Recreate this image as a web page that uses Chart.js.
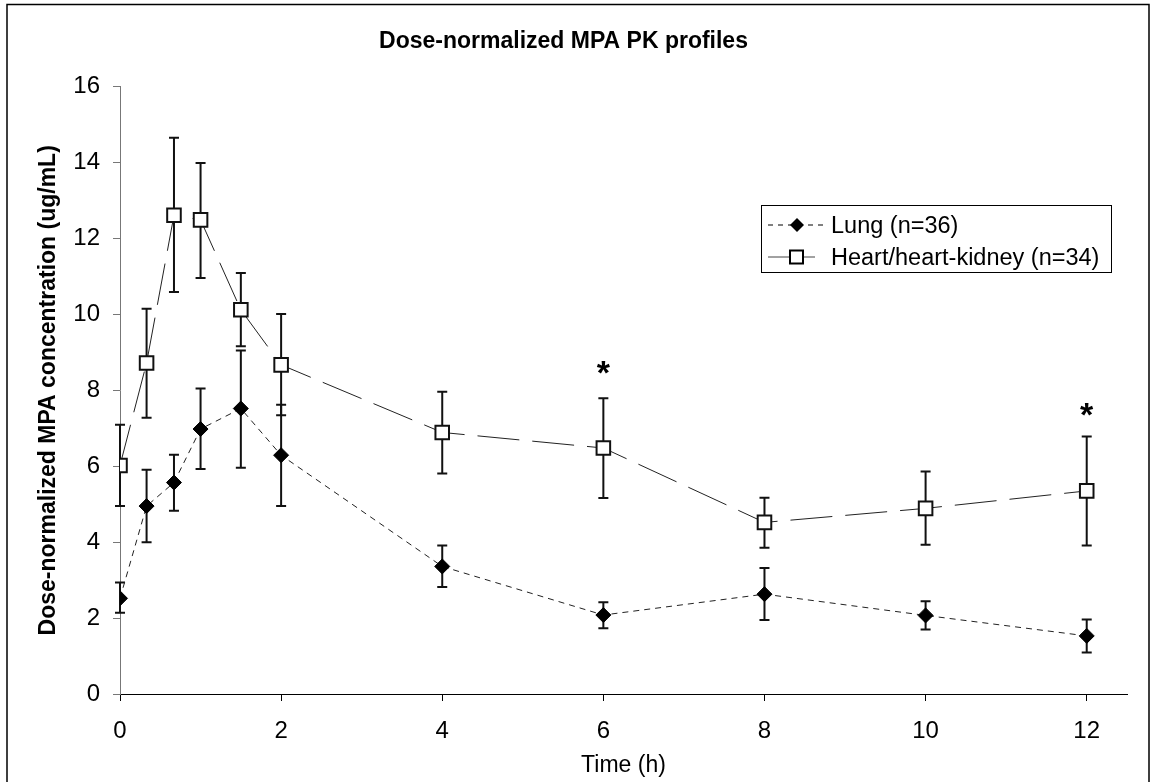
<!DOCTYPE html>
<html>
<head>
<meta charset="utf-8">
<title>Dose-normalized MPA PK profiles</title>
<script src="https://cdn.jsdelivr.net/npm/chart.js@4.4.1/dist/chart.umd.min.js"></script>
<style>
  html, body { margin: 0; padding: 0; background: #fff; }
  #wrap { width: 1151px; height: 782px; position: relative; }
</style>
</head>
<body>
<div id="wrap"><canvas id="pkChart"></canvas></div>
<script>
// sampling times (h)
const times = [0, 0.33, 0.67, 1, 1.5, 2, 4, 6, 8, 10, 12];

// Lung (n=36): mean and error bar ends
const lungMean = [2.52, 4.95, 5.57, 6.98, 7.52, 6.29, 3.36, 2.08, 2.63, 2.07, 1.53];
const lungLow  = [2.14, 4.00, 4.83, 5.93, 5.96, 4.95, 2.82, 1.73, 1.95, 1.70, 1.09];
const lungHigh = [2.94, 5.91, 6.30, 8.05, 9.05, 7.62, 3.91, 2.42, 3.32, 2.44, 1.96];

// Heart/heart-kidney (n=34)
const heartMean = [6.02, 8.72, 12.61, 12.49, 10.12, 8.67, 6.89, 6.48, 4.52, 4.89, 5.35];
const heartLow  = [4.95, 7.28, 10.59, 10.96, 9.16, 7.34, 5.81, 5.16, 3.85, 3.93, 3.91];
const heartHigh = [7.09, 10.15, 14.65, 13.99, 11.09, 10.01, 7.96, 7.79, 5.17, 5.86, 6.78];

// significance markers
const starX = [6, 12];
const starY = [8.67, 7.56];

const xTicks = [0, 2, 4, 6, 8, 10, 12];
const yTicks = [0, 2, 4, 6, 8, 10, 12, 14, 16];

const FONT = "Arial, 'Liberation Sans', sans-serif";
Chart.defaults.font.family = FONT;
Chart.defaults.color = "#000";

function pts(xs, ys) {
    return xs.map((x, i) => ({ x: x, y: ys[i] }));
}

// fond blanc + cadre
const framePlugin = {
    id: "frame",
    beforeDraw(chart) {
        const ctx = chart.ctx;
        ctx.save();
        ctx.fillStyle = "#fff";
        ctx.fillRect(0, 0, chart.width, chart.height);
        ctx.strokeStyle = "#000";
        ctx.lineWidth = 1.5;
        ctx.beginPath();
        ctx.moveTo(7, chart.height);
        ctx.lineTo(7, 4.5);
        ctx.lineTo(1149, 4.5);
        ctx.lineTo(1149, chart.height);
        ctx.stroke();
        ctx.restore();
    }
};

// barres d'erreur sous les marqueurs
const errorBarPlugin = {
    id: "errorBars",
    beforeDatasetsDraw(chart) {
        const ctx = chart.ctx;
        const xs = chart.scales.x, ys = chart.scales.y;
        ctx.save();
        ctx.strokeStyle = "#111";
        ctx.lineWidth = 2;
        chart.data.datasets.forEach(ds => {
            ds.data.forEach((p, i) => {
                const px = xs.getPixelForValue(p.x);
                const lo = ys.getPixelForValue(ds.errLow[i]);
                const hi = ys.getPixelForValue(ds.errHigh[i]);
                ctx.beginPath();
                ctx.moveTo(px, lo); ctx.lineTo(px, hi);
                ctx.moveTo(px - 5, lo); ctx.lineTo(px + 5, lo);
                ctx.moveTo(px - 5, hi); ctx.lineTo(px + 5, hi);
                ctx.stroke();
            });
        });
        ctx.restore();
    }
};

// asterisques + légende
const overlayPlugin = {
    id: "overlay",
    afterDraw(chart) {
        const ctx = chart.ctx;
        const xs = chart.scales.x, ys = chart.scales.y;
        ctx.save();
        ctx.fillStyle = "#000";
        ctx.font = "bold 34px " + FONT;
        ctx.textAlign = "center";
        ctx.textBaseline = "alphabetic";
        starX.forEach((x, i) => {
            ctx.fillText("*", xs.getPixelForValue(x), ys.getPixelForValue(starY[i]) + 19);
        });

        // légende
        ctx.strokeStyle = "#000";
        ctx.lineWidth = 1;
        ctx.strokeRect(761.5, 205.5, 350, 67);
        const ds = chart.data.datasets;
        const rows = [225, 257];

        // Lung sample
        ctx.beginPath();
        ctx.setLineDash([5, 5]);
        ctx.moveTo(768, rows[0]); ctx.lineTo(823, rows[0]);
        ctx.stroke();
        ctx.setLineDash([]);
        ctx.beginPath();
        ctx.moveTo(797 - 7, rows[0]); ctx.lineTo(797, rows[0] - 7);
        ctx.lineTo(797 + 7, rows[0]); ctx.lineTo(797, rows[0] + 7);
        ctx.closePath();
        ctx.fill();

        // Heart sample
        ctx.strokeStyle = "#444";
        ctx.beginPath();
        ctx.moveTo(768, rows[1]); ctx.lineTo(815, rows[1]);
        ctx.stroke();
        ctx.fillStyle = "#fff";
        ctx.strokeStyle = "#000";
        ctx.lineWidth = 2;
        ctx.fillRect(790, rows[1] - 6.5, 13, 13);
        ctx.strokeRect(790, rows[1] - 6.5, 13, 13);

        ctx.fillStyle = "#000";
        ctx.font = "23.5px " + FONT;
        ctx.textAlign = "left";
        ctx.fillText(ds[0].label, 831, rows[0] + 7.5);
        ctx.fillText(ds[1].label, 831, rows[1] + 7.5);
        ctx.restore();
    }
};

const config = {
    type: "scatter",
    data: {
        datasets: [
            {
                label: "Lung (n=36)",
                data: pts(times, lungMean),
                errLow: lungLow,
                errHigh: lungHigh,
                showLine: true,
                borderColor: "#222",
                borderWidth: 1,
                borderDash: [6, 5],
                pointStyle: "rectRot",
                pointRadius: 7.5,
                pointBackgroundColor: "#000",
                pointBorderColor: "#000",
                pointBorderWidth: 1,
            },
            {
                label: "Heart/heart-kidney (n=34)",
                data: pts(times, heartMean),
                errLow: heartLow,
                errHigh: heartHigh,
                showLine: true,
                borderColor: "#222",
                borderWidth: 1,
                borderDash: [42, 13],
                pointStyle: "rect",
                pointRadius: 9.6,
                pointBackgroundColor: "#fff",
                pointBorderColor: "#111",
                pointBorderWidth: 2,
            },
        ],
    },
    options: {
        responsive: true,
        maintainAspectRatio: false,
        animation: false,
        events: [],
        layout: { padding: { left: 0, right: 24, top: 0, bottom: 0 } },
        scales: {
            x: {
                type: "linear",
                min: 0,
                max: 12.5,
                afterFit(s) { s.height = 88; },
                afterBuildTicks(s) { s.ticks = xTicks.map(v => ({ value: v })); },
                ticks: { font: { size: 24 }, color: "#000", padding: 16 },
                grid: { drawOnChartArea: false, tickLength: 7, color: "#000" },
                border: { color: "#000", width: 1 },
                title: {
                    display: true,
                    text: "Time (h)",
                    font: { size: 23 },
                    color: "#000",
                    padding: { top: 0, bottom: 3 },
                },
            },
            y: {
                min: 0,
                max: 16,
                afterFit(s) { s.width = 120; },
                afterBuildTicks(s) { s.ticks = yTicks.map(v => ({ value: v })); },
                ticks: { font: { size: 24 }, color: "#000", padding: 13 },
                grid: { drawOnChartArea: false, tickLength: 7, color: "#777" },
                border: { color: "#777", width: 1 },
                title: {
                    display: true,
                    text: "Dose-normalized MPA concentration (ug/mL)",
                    font: { size: 23, weight: "bold" },
                    color: "#000",
                    padding: { top: 35, bottom: 0 },
                },
            },
        },
        plugins: {
            legend: { display: false },
            tooltip: { enabled: false },
            title: {
                display: true,
                text: "Dose-normalized MPA PK profiles",
                font: { size: 23, weight: "bold" },
                color: "#000",
                padding: { top: 28, bottom: 31 },
            },
        },
    },
    plugins: [framePlugin, errorBarPlugin, overlayPlugin],
};

const pkChart = new Chart(document.getElementById("pkChart"), config);
</script>
</body>
</html>
